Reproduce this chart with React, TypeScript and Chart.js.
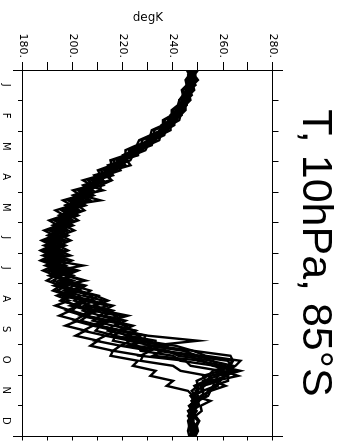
import React, { useEffect, useRef } from 'react';
import { Chart, registerables } from 'chart.js';

Chart.register(...registerables);

const chartTitle = 'T, 10hPa, 85°S';
const valueAxisTitle = 'degK';
const monthLabels = ['J', 'F', 'M', 'A', 'M', 'J', 'J', 'A', 'S', 'O', 'N', 'D'];
const tempTicks = [180, 190, 200, 210, 220, 230, 240, 250, 260, 270, 280];
const tempTickLabels = ['180.', '', '200.', '', '220.', '', '240.', '', '260.', '', '280.'];

const days = [
  0, 5, 10, 15, 20, 25, 30, 35, 40, 45, 50, 55, 60, 65, 70, 75, 80, 85, 90, 95,
  100, 105, 110, 115, 120, 125, 130, 135, 140, 145, 150, 155, 160, 165, 170, 175, 180, 185, 190, 195,
  200, 205, 210, 215, 220, 225, 230, 235, 240, 245, 250, 255, 260, 265, 270, 275, 280, 285, 290, 295,
  300, 305, 310, 315, 320, 325, 330, 335, 340, 345, 350, 355, 360, 365,
];

const yearA = [
  246.0, 247.5, 245.5, 246.5, 244.0, 245.0, 242.5, 243.0,
  240.0, 240.5, 236.5, 237.0, 232.5, 232.5, 227.5, 227.5,
  222.5, 222.0, 216.0, 217.5, 211.0, 213.0, 206.0, 208.5,
  202.0, 205.0, 198.0, 201.5, 195.5, 198.5, 192.5, 196.0,
  190.5, 194.5, 189.0, 193.0, 188.0, 193.5, 188.5, 194.0,
  192.0, 199.0, 196.5, 205.0, 202.0, 210.0, 207.0, 216.0,
  212.0, 220.0, 215.5, 224.0, 219.5, 230.0, 250.0, 231.0,
  244.0, 250.0, 264.0, 262.0, 259.0, 252.0, 253.0, 248.5,
  250.0, 247.5, 249.0, 246.5, 248.5, 246.5, 248.0, 247.0,
  248.0, 246.5,
];
const yearB = [
  250.0, 248.5, 250.0, 248.0, 248.5, 246.5, 247.0, 245.0,
  245.0, 243.0, 242.5, 239.0, 239.0, 235.0, 234.5, 230.0,
  229.0, 224.0, 223.0, 218.0, 219.0, 213.0, 215.5, 211.0,
  211.0, 204.5, 207.0, 202.0, 204.5, 199.0, 202.0, 196.5,
  200.5, 195.0, 199.0, 194.0, 198.0, 193.0, 199.5, 195.0,
  202.0, 197.0, 204.0, 200.0, 207.0, 204.0, 212.0, 208.0,
  216.0, 212.5, 221.0, 217.0, 225.0, 222.0, 233.0, 233.0,
  248.0, 253.0, 267.0, 265.0, 262.0, 255.0, 254.0, 249.0,
  250.0, 248.0, 250.0, 247.5, 249.5, 248.0, 250.0, 249.0,
  249.5, 249.0,
];
const yearC = [
  247.5, 247.0, 248.5, 246.5, 247.0, 245.0, 245.5, 243.5,
  243.5, 240.5, 240.5, 237.0, 237.0, 232.5, 232.0, 227.5,
  226.5, 221.0, 221.0, 215.5, 216.5, 210.0, 211.5, 205.5,
  208.0, 203.5, 211.0, 198.0, 201.5, 195.5, 198.5, 193.5,
  197.5, 192.0, 196.0, 190.5, 195.5, 189.5, 196.0, 191.0,
  201.0, 193.0, 198.0, 194.0, 201.0, 197.5, 205.0, 201.0,
  208.0, 205.0, 213.0, 210.0, 219.0, 216.0, 226.0, 225.0,
  238.0, 242.0, 256.0, 258.0, 267.0, 260.0, 259.0, 252.0,
  252.0, 248.0, 249.0, 246.5, 248.0, 246.5, 248.0, 246.5,
  248.0, 247.5,
];
const yearD = [
  248.0, 249.0, 248.0, 249.0, 246.5, 247.5, 245.5, 245.5,
  243.0, 243.5, 240.5, 240.5, 237.0, 236.5, 232.0, 231.5,
  226.0, 226.0, 219.5, 221.0, 214.5, 216.0, 209.0, 212.0,
  205.0, 208.0, 201.5, 205.0, 198.5, 202.0, 196.0, 200.0,
  194.5, 198.0, 192.5, 197.0, 191.0, 196.5, 192.0, 204.0,
  193.5, 199.0, 194.5, 200.5, 196.5, 203.0, 200.5, 207.0,
  204.0, 211.0, 208.0, 216.0, 214.0, 223.0, 222.0, 232.0,
  234.0, 247.0, 250.0, 261.0, 262.0, 262.0, 255.0, 257.0,
  252.0, 252.0, 248.5, 250.0, 247.5, 249.0, 247.5, 249.5,
  248.0, 248.5,
];
const yearE = [
  247.0, 248.0, 247.5, 247.5, 246.0, 246.5, 244.0, 244.5,
  242.0, 242.5, 239.5, 239.0, 236.0, 235.0, 231.0, 230.0,
  225.0, 225.0, 218.5, 219.5, 213.5, 214.5, 215.0, 206.5,
  204.0, 207.0, 200.0, 203.5, 197.0, 201.0, 194.5, 198.5,
  193.0, 197.5, 191.5, 196.0, 190.0, 195.0, 190.0, 194.5,
  192.0, 198.0, 205.0, 194.5, 202.0, 199.0, 208.0, 204.5,
  214.0, 210.5, 219.0, 216.5, 225.0, 221.0, 231.0, 230.0,
  246.0, 247.0, 262.0, 263.0, 264.0, 255.0, 255.0, 250.0,
  250.0, 247.0, 248.5, 246.5, 247.5, 246.0, 247.5, 247.0,
  247.5, 247.0,
];
const yearF = [
  245.5, 246.5, 245.0, 245.5, 243.5, 244.0, 242.5, 242.0,
  239.5, 239.5, 236.0, 236.0, 231.5, 231.0, 226.5, 225.5,
  221.0, 221.0, 215.0, 215.5, 210.0, 211.0, 204.0, 207.5,
  200.0, 203.0, 196.0, 199.5, 193.0, 196.5, 190.5, 194.0,
  188.5, 192.5, 187.5, 191.5, 187.0, 191.0, 187.0, 192.5,
  188.0, 193.0, 189.5, 195.0, 192.0, 198.0, 195.0, 202.0,
  199.5, 206.0, 203.0, 211.0, 209.0, 217.0, 216.0, 226.0,
  227.0, 240.0, 243.0, 257.0, 260.0, 266.0, 257.0, 258.0,
  254.0, 253.0, 248.5, 248.5, 246.0, 247.0, 246.0, 246.5,
  246.0, 246.5,
];
const yearG = [
  249.5, 248.0, 249.5, 247.5, 248.0, 246.5, 246.5, 244.5,
  244.5, 242.0, 241.5, 238.5, 238.0, 234.0, 233.0, 228.5,
  228.0, 222.5, 221.5, 223.0, 216.0, 211.5, 212.0, 206.5,
  212.0, 203.0, 206.0, 199.5, 202.5, 196.5, 200.0, 194.0,
  198.0, 192.5, 197.0, 191.0, 195.5, 190.0, 196.5, 191.5,
  197.0, 192.5, 198.5, 192.5, 199.0, 193.5, 198.5, 193.0,
  199.0, 194.5, 202.0, 197.0, 205.0, 201.0, 210.0, 207.0,
  216.0, 215.0, 226.0, 224.0, 233.0, 231.0, 240.0, 237.5,
  246.0, 248.0, 255.0, 251.0, 251.5, 249.0, 250.5, 249.5,
  250.0, 249.0,
];
const yearH = [
  248.5, 247.0, 247.5, 246.0, 246.0, 244.0, 244.5, 242.5,
  242.0, 239.5, 239.5, 235.5, 235.5, 231.0, 230.5, 226.0,
  225.0, 220.0, 220.0, 214.5, 216.0, 209.5, 211.0, 205.0,
  207.5, 201.0, 204.0, 197.5, 200.5, 195.0, 198.0, 192.5,
  196.0, 191.0, 195.0, 189.5, 194.0, 199.0, 189.5, 195.0,
  191.0, 198.0, 195.5, 203.0, 201.0, 209.0, 214.0, 209.0,
  212.0, 222.0, 215.0, 221.0, 220.0, 229.0, 228.0, 241.0,
  248.0, 263.0, 264.0, 263.0, 256.0, 254.0, 249.5, 250.0,
  247.5, 249.0, 247.5, 249.0, 247.0, 248.5, 248.0, 248.5,
  249.0, 248.5,
];
const yearI = [
  246.5, 247.0, 246.5, 246.0, 245.0, 245.5, 243.5, 243.5,
  241.0, 241.5, 238.0, 238.5, 234.5, 234.0, 229.5, 229.0,
  223.5, 224.0, 217.5, 218.5, 212.5, 213.5, 207.5, 209.5,
  203.0, 206.5, 199.0, 202.5, 196.5, 200.0, 194.0, 197.5,
  192.0, 196.5, 190.5, 195.0, 189.0, 194.0, 188.5, 193.5,
  190.0, 195.5, 192.0, 198.0, 193.5, 200.0, 195.5, 202.0,
  197.5, 204.0, 200.5, 208.0, 204.0, 213.0, 209.0, 219.0,
  216.0, 228.0, 227.0, 240.0, 243.0, 254.0, 256.0, 261.0,
  255.0, 254.0, 250.0, 250.5, 247.5, 249.0, 247.0, 248.5,
  247.5, 248.0,
];
const yearJ = [
  248.5, 248.0, 248.0, 247.0, 247.5, 246.0, 245.5, 244.0,
  243.0, 241.5, 241.5, 237.5, 237.5, 233.0, 232.5, 227.5,
  227.0, 221.0, 221.5, 215.0, 217.0, 210.0, 212.0, 205.5,
  207.0, 202.0, 204.5, 199.0, 202.0, 196.0, 199.5, 193.5,
  197.5, 191.5, 196.5, 190.0, 196.0, 190.5, 197.0, 191.0,
  198.5, 192.5, 200.0, 195.0, 202.5, 198.0, 206.0, 201.5,
  210.0, 205.0, 215.0, 210.5, 220.0, 216.0, 228.0, 222.0,
  236.0, 232.0, 252.0, 256.0, 265.0, 258.0, 257.0, 251.0,
  251.5, 248.0, 249.5, 247.0, 248.5, 246.5, 248.0, 247.0,
  248.0, 247.5,
];
const yearK = [
  246.5, 248.5, 246.5, 248.0, 245.5, 246.5, 244.0, 244.5,
  241.5, 242.5, 238.5, 239.5, 235.0, 235.5, 230.0, 230.5,
  224.5, 225.5, 218.0, 220.0, 213.0, 215.0, 208.0, 210.5,
  203.5, 208.0, 199.5, 204.0, 196.5, 201.5, 194.5, 199.0,
  192.5, 197.0, 190.5, 196.0, 189.5, 196.5, 190.0, 197.0,
  193.0, 200.0, 196.0, 204.0, 199.0, 208.0, 204.0, 214.0,
  208.0, 218.0, 213.0, 222.0, 218.0, 227.0, 224.0, 238.0,
  236.0, 251.0, 255.0, 264.0, 258.0, 258.0, 252.0, 252.5,
  249.0, 250.0, 247.5, 249.0, 247.0, 248.0, 246.5, 248.0,
  247.0, 248.0,
];
const yearL = [
  247.0, 246.0, 247.0, 245.5, 245.5, 244.0, 244.0, 242.5,
  241.5, 239.0, 239.0, 235.5, 235.5, 231.5, 231.0, 226.5,
  225.5, 220.0, 220.5, 214.0, 215.5, 208.5, 210.5, 204.0,
  206.0, 200.0, 203.0, 197.0, 200.0, 194.5, 198.0, 192.0,
  195.5, 190.0, 194.5, 188.5, 193.5, 188.0, 194.0, 189.0,
  195.0, 190.5, 197.0, 193.0, 200.0, 195.5, 204.0, 199.0,
  207.0, 203.0, 212.0, 208.0, 217.0, 213.0, 223.0, 219.0,
  231.0, 227.0, 245.0, 247.0, 259.0, 262.0, 262.0, 256.0,
  255.0, 251.0, 250.5, 248.0, 249.0, 247.0, 247.5, 246.5,
  247.0, 247.5,
];

const years = [yearA, yearB, yearC, yearD, yearE, yearF, yearG, yearH, yearI, yearJ, yearK, yearL];

const framePlugin = {
  id: 'framePlugin',
  afterDraw(chart: any) {
    const { ctx, chartArea, scales } = chart;
    const { left, right, top, bottom } = chartArea;
    const L = Math.floor(left) + 0.5;
    const R = Math.floor(right) + 0.5;
    const T = Math.floor(top) + 0.5;
    ctx.save();
    ctx.strokeStyle = '#000';
    ctx.lineWidth = 1;
    ctx.beginPath();
    ctx.moveTo(L, top - 10);
    ctx.lineTo(L, bottom + 10);
    ctx.moveTo(R, top - 10);
    ctx.lineTo(R, bottom + 10);
    ctx.moveTo(L, T);
    ctx.lineTo(R, T);
    for (let i = 0; i <= monthLabels.length; i++) {
      const x = Math.floor(scales.x.getPixelForValue(i - 0.5)) + 0.5;
      ctx.moveTo(x, T);
      ctx.lineTo(x, T - 6);
    }
    tempTicks.forEach((v) => {
      const y = Math.floor(scales.y.getPixelForValue(v)) + 0.5;
      ctx.moveTo(R, y);
      ctx.lineTo(R + 4, y);
    });
    ctx.stroke();
    ctx.fillStyle = '#000';
    ctx.font = '43px "Liberation Sans", Arial, sans-serif';
    ctx.textAlign = 'center';
    ctx.textBaseline = 'alphabetic';
    ctx.fillText(chartTitle, (left + right) / 2, 43);
    ctx.restore();
  },
};

export default function App() {
  const ref = useRef<HTMLCanvasElement | null>(null);
  useEffect(() => {
    document.body.style.margin = '0';
    const canvas = ref.current;
    if (!canvas) return;
    const chart = new Chart(canvas, {
      type: 'line',
      data: {
        datasets: years.map((yr) => ({
          data: days.map((d, i) => ({ x: d, y: yr[i] })),
          borderColor: '#000',
          borderWidth: 2.4,
          pointRadius: 0,
          fill: false,
          tension: 0,
          xAxisID: 'xd',
          yAxisID: 'y',
        })),
      },
      options: {
        animation: false,
        responsive: false,
        devicePixelRatio: 1,
        layout: { padding: { top: 73, right: 5, left: 0, bottom: 0 } },
        plugins: { legend: { display: false }, tooltip: { enabled: false }, title: { display: false } },
        scales: {
          x: {
            type: 'category',
            labels: monthLabels,
            position: 'bottom',
            offset: true,
            grid: { offset: true, drawOnChartArea: false, tickLength: 5, color: '#000' },
            border: { display: true, color: '#000', width: 1 },
            ticks: {
              color: '#000',
              font: { family: '"DejaVu Sans"', size: 10 },
              padding: 6,
              autoSkip: false,
              maxRotation: 0,
              minRotation: 0,
            },
            afterFit: (s: any) => {
              s.height = 23;
            },
          },
          xd: { type: 'linear', display: false, min: 0, max: 365 },
          y: {
            type: 'linear',
            position: 'left',
            min: 180,
            max: 280,
            afterBuildTicks: (s: any) => {
              s.ticks = tempTicks.map((v) => ({ value: v }));
            },
            ticks: {
              callback: (_v: any, i: number) => tempTickLabels[i],
              color: '#000',
              font: { family: '"DejaVu Sans"', size: 11 },
              padding: 4,
              autoSkip: false,
            },
            grid: { drawOnChartArea: false, tickLength: 8, color: '#000' },
            border: { display: true, color: '#000' },
            title: {
              display: true,
              text: valueAxisTitle,
              color: '#000',
              font: { family: '"DejaVu Sans"', size: 12 },
              padding: { top: 11, bottom: 0 },
            },
            afterFit: (s: any) => {
              s.width = 70;
            },
          },
        },
      },
      plugins: [framePlugin],
    } as any);
    return () => chart.destroy();
  }, []);
  return (
    <div style={{ position: 'relative', width: 346, height: 441, overflow: 'hidden', background: '#fff' }}>
      <canvas
        ref={ref}
        width={441}
        height={346}
        style={{
          position: 'absolute',
          left: 0,
          top: 0,
          width: 441,
          height: 346,
          transformOrigin: '0 0',
          transform: 'translateX(346px) rotate(90deg)',
        }}
      />
    </div>
  );
}
